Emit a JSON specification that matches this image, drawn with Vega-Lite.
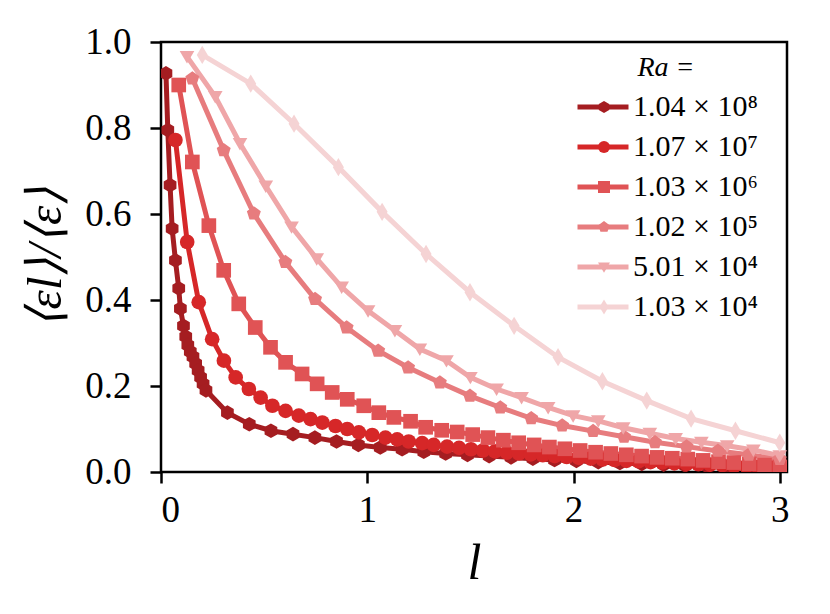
{
  "$schema": "https://vega.github.io/schema/vega-lite/v6.json",
  "width": 626,
  "height": 430,
  "autosize": {"type": "none"},
  "padding": {"left": 161, "top": 42, "right": 43, "bottom": 142},
  "background": "white",
  "config": {
    "font": "Liberation Serif",
    "view": {"stroke": "black", "strokeWidth": 2.5},
    "axis": {
      "domain": false,
      "grid": false,
      "labelFont": "Liberation Serif",
      "labelFontSize": 37,
      "labelColor": "black",
      "tickColor": "black",
      "tickWidth": 2.5,
      "tickSize": 11,
      "titleFont": "Liberation Serif",
      "titleFontWeight": "normal",
      "titleColor": "black"
    },
    "axisX": {"labelPadding": 9},
    "axisY": {"labelPadding": 19}
  },
  "data": {
    "values": [
      {"s": "1.04 × 10⁸", "l": 0.024, "v": 0.927},
      {"s": "1.04 × 10⁸", "l": 0.033, "v": 0.795},
      {"s": "1.04 × 10⁸", "l": 0.044, "v": 0.667},
      {"s": "1.04 × 10⁸", "l": 0.054, "v": 0.566},
      {"s": "1.04 × 10⁸", "l": 0.070, "v": 0.492},
      {"s": "1.04 × 10⁸", "l": 0.086, "v": 0.427},
      {"s": "1.04 × 10⁸", "l": 0.094, "v": 0.380},
      {"s": "1.04 × 10⁸", "l": 0.109, "v": 0.340},
      {"s": "1.04 × 10⁸", "l": 0.120, "v": 0.315},
      {"s": "1.04 × 10⁸", "l": 0.130, "v": 0.295},
      {"s": "1.04 × 10⁸", "l": 0.142, "v": 0.280},
      {"s": "1.04 × 10⁸", "l": 0.155, "v": 0.268},
      {"s": "1.04 × 10⁸", "l": 0.168, "v": 0.252},
      {"s": "1.04 × 10⁸", "l": 0.180, "v": 0.236},
      {"s": "1.04 × 10⁸", "l": 0.192, "v": 0.220},
      {"s": "1.04 × 10⁸", "l": 0.204, "v": 0.205},
      {"s": "1.04 × 10⁸", "l": 0.218, "v": 0.190},
      {"s": "1.04 × 10⁸", "l": 0.322, "v": 0.138},
      {"s": "1.04 × 10⁸", "l": 0.428, "v": 0.111},
      {"s": "1.04 × 10⁸", "l": 0.533, "v": 0.096},
      {"s": "1.04 × 10⁸", "l": 0.640, "v": 0.088},
      {"s": "1.04 × 10⁸", "l": 0.746, "v": 0.080},
      {"s": "1.04 × 10⁸", "l": 0.851, "v": 0.071},
      {"s": "1.04 × 10⁸", "l": 0.957, "v": 0.063},
      {"s": "1.04 × 10⁸", "l": 1.063, "v": 0.057},
      {"s": "1.04 × 10⁸", "l": 1.169, "v": 0.053},
      {"s": "1.04 × 10⁸", "l": 1.274, "v": 0.047},
      {"s": "1.04 × 10⁸", "l": 1.380, "v": 0.043},
      {"s": "1.04 × 10⁸", "l": 1.486, "v": 0.040},
      {"s": "1.04 × 10⁸", "l": 1.591, "v": 0.037},
      {"s": "1.04 × 10⁸", "l": 1.697, "v": 0.034},
      {"s": "1.04 × 10⁸", "l": 1.803, "v": 0.031},
      {"s": "1.04 × 10⁸", "l": 1.908, "v": 0.028},
      {"s": "1.04 × 10⁸", "l": 2.014, "v": 0.026},
      {"s": "1.04 × 10⁸", "l": 2.120, "v": 0.023},
      {"s": "1.04 × 10⁸", "l": 2.225, "v": 0.021},
      {"s": "1.04 × 10⁸", "l": 2.331, "v": 0.019},
      {"s": "1.04 × 10⁸", "l": 2.437, "v": 0.017},
      {"s": "1.04 × 10⁸", "l": 2.542, "v": 0.015},
      {"s": "1.04 × 10⁸", "l": 2.648, "v": 0.013},
      {"s": "1.04 × 10⁸", "l": 2.754, "v": 0.011},
      {"s": "1.04 × 10⁸", "l": 2.860, "v": 0.009},
      {"s": "1.04 × 10⁸", "l": 2.965, "v": 0.007},

      {"s": "1.07 × 10⁷", "l": 0.070, "v": 0.772},
      {"s": "1.07 × 10⁷", "l": 0.127, "v": 0.535},
      {"s": "1.07 × 10⁷", "l": 0.183, "v": 0.395},
      {"s": "1.07 × 10⁷", "l": 0.248, "v": 0.309},
      {"s": "1.07 × 10⁷", "l": 0.305, "v": 0.259},
      {"s": "1.07 × 10⁷", "l": 0.362, "v": 0.220},
      {"s": "1.07 × 10⁷", "l": 0.426, "v": 0.193},
      {"s": "1.07 × 10⁷", "l": 0.483, "v": 0.173},
      {"s": "1.07 × 10⁷", "l": 0.540, "v": 0.154},
      {"s": "1.07 × 10⁷", "l": 0.604, "v": 0.142},
      {"s": "1.07 × 10⁷", "l": 0.668, "v": 0.131},
      {"s": "1.07 × 10⁷", "l": 0.725, "v": 0.123},
      {"s": "1.07 × 10⁷", "l": 0.782, "v": 0.115},
      {"s": "1.07 × 10⁷", "l": 0.846, "v": 0.107},
      {"s": "1.07 × 10⁷", "l": 0.903, "v": 0.100},
      {"s": "1.07 × 10⁷", "l": 0.959, "v": 0.092},
      {"s": "1.07 × 10⁷", "l": 1.024, "v": 0.086},
      {"s": "1.07 × 10⁷", "l": 1.088, "v": 0.080},
      {"s": "1.07 × 10⁷", "l": 1.145, "v": 0.076},
      {"s": "1.07 × 10⁷", "l": 1.201, "v": 0.071},
      {"s": "1.07 × 10⁷", "l": 1.266, "v": 0.067},
      {"s": "1.07 × 10⁷", "l": 1.322, "v": 0.063},
      {"s": "1.07 × 10⁷", "l": 1.387, "v": 0.059},
      {"s": "1.07 × 10⁷", "l": 1.445, "v": 0.056},
      {"s": "1.07 × 10⁷", "l": 1.503, "v": 0.053},
      {"s": "1.07 × 10⁷", "l": 1.561, "v": 0.050},
      {"s": "1.07 × 10⁷", "l": 1.619, "v": 0.048},
      {"s": "1.07 × 10⁷", "l": 1.677, "v": 0.045},
      {"s": "1.07 × 10⁷", "l": 1.735, "v": 0.043},
      {"s": "1.07 × 10⁷", "l": 1.793, "v": 0.041},
      {"s": "1.07 × 10⁷", "l": 1.851, "v": 0.039},
      {"s": "1.07 × 10⁷", "l": 1.909, "v": 0.037},
      {"s": "1.07 × 10⁷", "l": 1.967, "v": 0.035},
      {"s": "1.07 × 10⁷", "l": 2.025, "v": 0.033},
      {"s": "1.07 × 10⁷", "l": 2.083, "v": 0.031},
      {"s": "1.07 × 10⁷", "l": 2.141, "v": 0.029},
      {"s": "1.07 × 10⁷", "l": 2.199, "v": 0.028},
      {"s": "1.07 × 10⁷", "l": 2.257, "v": 0.026},
      {"s": "1.07 × 10⁷", "l": 2.315, "v": 0.025},
      {"s": "1.07 × 10⁷", "l": 2.373, "v": 0.023},
      {"s": "1.07 × 10⁷", "l": 2.431, "v": 0.022},
      {"s": "1.07 × 10⁷", "l": 2.489, "v": 0.020},
      {"s": "1.07 × 10⁷", "l": 2.547, "v": 0.019},
      {"s": "1.07 × 10⁷", "l": 2.605, "v": 0.018},
      {"s": "1.07 × 10⁷", "l": 2.663, "v": 0.017},
      {"s": "1.07 × 10⁷", "l": 2.721, "v": 0.016},
      {"s": "1.07 × 10⁷", "l": 2.779, "v": 0.014},
      {"s": "1.07 × 10⁷", "l": 2.837, "v": 0.013},
      {"s": "1.07 × 10⁷", "l": 2.895, "v": 0.012},
      {"s": "1.07 × 10⁷", "l": 2.953, "v": 0.011},
      {"s": "1.07 × 10⁷", "l": 3.005, "v": 0.010},

      {"s": "1.03 × 10⁶", "l": 0.086, "v": 0.900},
      {"s": "1.03 × 10⁶", "l": 0.152, "v": 0.721},
      {"s": "1.03 × 10⁶", "l": 0.232, "v": 0.573},
      {"s": "1.03 × 10⁶", "l": 0.304, "v": 0.469},
      {"s": "1.03 × 10⁶", "l": 0.377, "v": 0.391},
      {"s": "1.03 × 10⁶", "l": 0.457, "v": 0.336},
      {"s": "1.03 × 10⁶", "l": 0.531, "v": 0.290},
      {"s": "1.03 × 10⁶", "l": 0.604, "v": 0.255},
      {"s": "1.03 × 10⁶", "l": 0.684, "v": 0.228},
      {"s": "1.03 × 10⁶", "l": 0.757, "v": 0.205},
      {"s": "1.03 × 10⁶", "l": 0.830, "v": 0.185},
      {"s": "1.03 × 10⁶", "l": 0.903, "v": 0.169},
      {"s": "1.03 × 10⁶", "l": 0.983, "v": 0.154},
      {"s": "1.03 × 10⁶", "l": 1.056, "v": 0.138},
      {"s": "1.03 × 10⁶", "l": 1.129, "v": 0.127},
      {"s": "1.03 × 10⁶", "l": 1.210, "v": 0.118},
      {"s": "1.03 × 10⁶", "l": 1.283, "v": 0.104},
      {"s": "1.03 × 10⁶", "l": 1.361, "v": 0.097},
      {"s": "1.03 × 10⁶", "l": 1.436, "v": 0.093},
      {"s": "1.03 × 10⁶", "l": 1.511, "v": 0.087},
      {"s": "1.03 × 10⁶", "l": 1.585, "v": 0.080},
      {"s": "1.03 × 10⁶", "l": 1.660, "v": 0.074},
      {"s": "1.03 × 10⁶", "l": 1.734, "v": 0.068},
      {"s": "1.03 × 10⁶", "l": 1.809, "v": 0.063},
      {"s": "1.03 × 10⁶", "l": 1.883, "v": 0.058},
      {"s": "1.03 × 10⁶", "l": 1.958, "v": 0.054},
      {"s": "1.03 × 10⁶", "l": 2.032, "v": 0.050},
      {"s": "1.03 × 10⁶", "l": 2.107, "v": 0.046},
      {"s": "1.03 × 10⁶", "l": 2.181, "v": 0.043},
      {"s": "1.03 × 10⁶", "l": 2.256, "v": 0.040},
      {"s": "1.03 × 10⁶", "l": 2.330, "v": 0.037},
      {"s": "1.03 × 10⁶", "l": 2.405, "v": 0.034},
      {"s": "1.03 × 10⁶", "l": 2.479, "v": 0.032},
      {"s": "1.03 × 10⁶", "l": 2.554, "v": 0.030},
      {"s": "1.03 × 10⁶", "l": 2.628, "v": 0.027},
      {"s": "1.03 × 10⁶", "l": 2.703, "v": 0.024},
      {"s": "1.03 × 10⁶", "l": 2.777, "v": 0.022},
      {"s": "1.03 × 10⁶", "l": 2.852, "v": 0.019},
      {"s": "1.03 × 10⁶", "l": 2.926, "v": 0.016},
      {"s": "1.03 × 10⁶", "l": 3.000, "v": 0.012},

      {"s": "1.02 × 10⁵", "l": 0.152, "v": 0.915},
      {"s": "1.02 × 10⁵", "l": 0.304, "v": 0.748},
      {"s": "1.02 × 10⁵", "l": 0.450, "v": 0.601},
      {"s": "1.02 × 10⁵", "l": 0.603, "v": 0.488},
      {"s": "1.02 × 10⁵", "l": 0.747, "v": 0.402},
      {"s": "1.02 × 10⁵", "l": 0.900, "v": 0.336},
      {"s": "1.02 × 10⁵", "l": 1.053, "v": 0.282},
      {"s": "1.02 × 10⁵", "l": 1.198, "v": 0.243},
      {"s": "1.02 × 10⁵", "l": 1.352, "v": 0.208},
      {"s": "1.02 × 10⁵", "l": 1.498, "v": 0.177},
      {"s": "1.02 × 10⁵", "l": 1.645, "v": 0.150},
      {"s": "1.02 × 10⁵", "l": 1.795, "v": 0.125},
      {"s": "1.02 × 10⁵", "l": 1.945, "v": 0.108},
      {"s": "1.02 × 10⁵", "l": 2.095, "v": 0.095},
      {"s": "1.02 × 10⁵", "l": 2.245, "v": 0.082},
      {"s": "1.02 × 10⁵", "l": 2.395, "v": 0.069},
      {"s": "1.02 × 10⁵", "l": 2.548, "v": 0.059},
      {"s": "1.02 × 10⁵", "l": 2.700, "v": 0.049},
      {"s": "1.02 × 10⁵", "l": 2.850, "v": 0.040},
      {"s": "1.02 × 10⁵", "l": 3.000, "v": 0.030},

      {"s": "5.01 × 10⁴", "l": 0.126, "v": 0.966},
      {"s": "5.01 × 10⁴", "l": 0.263, "v": 0.873},
      {"s": "5.01 × 10⁴", "l": 0.383, "v": 0.764},
      {"s": "5.01 × 10⁴", "l": 0.508, "v": 0.665},
      {"s": "5.01 × 10⁴", "l": 0.633, "v": 0.570},
      {"s": "5.01 × 10⁴", "l": 0.755, "v": 0.496},
      {"s": "5.01 × 10⁴", "l": 0.876, "v": 0.430},
      {"s": "5.01 × 10⁴", "l": 1.004, "v": 0.375},
      {"s": "5.01 × 10⁴", "l": 1.134, "v": 0.329},
      {"s": "5.01 × 10⁴", "l": 1.255, "v": 0.286},
      {"s": "5.01 × 10⁴", "l": 1.384, "v": 0.259},
      {"s": "5.01 × 10⁴", "l": 1.500, "v": 0.220},
      {"s": "5.01 × 10⁴", "l": 1.627, "v": 0.193},
      {"s": "5.01 × 10⁴", "l": 1.748, "v": 0.173},
      {"s": "5.01 × 10⁴", "l": 1.877, "v": 0.150},
      {"s": "5.01 × 10⁴", "l": 1.998, "v": 0.131},
      {"s": "5.01 × 10⁴", "l": 2.120, "v": 0.119},
      {"s": "5.01 × 10⁴", "l": 2.241, "v": 0.103},
      {"s": "5.01 × 10⁴", "l": 2.370, "v": 0.090},
      {"s": "5.01 × 10⁴", "l": 2.495, "v": 0.078},
      {"s": "5.01 × 10⁴", "l": 2.620, "v": 0.069},
      {"s": "5.01 × 10⁴", "l": 2.745, "v": 0.061},
      {"s": "5.01 × 10⁴", "l": 2.872, "v": 0.051},
      {"s": "5.01 × 10⁴", "l": 3.000, "v": 0.038},

      {"s": "1.03 × 10⁴", "l": 0.200, "v": 0.970},
      {"s": "1.03 × 10⁴", "l": 0.435, "v": 0.903},
      {"s": "1.03 × 10⁴", "l": 0.645, "v": 0.810},
      {"s": "1.03 × 10⁴", "l": 0.860, "v": 0.709},
      {"s": "1.03 × 10⁴", "l": 1.072, "v": 0.605},
      {"s": "1.03 × 10⁴", "l": 1.285, "v": 0.507},
      {"s": "1.03 × 10⁴", "l": 1.498, "v": 0.418},
      {"s": "1.03 × 10⁴", "l": 1.712, "v": 0.340},
      {"s": "1.03 × 10⁴", "l": 1.925, "v": 0.267},
      {"s": "1.03 × 10⁴", "l": 2.140, "v": 0.211},
      {"s": "1.03 × 10⁴", "l": 2.355, "v": 0.166},
      {"s": "1.03 × 10⁴", "l": 2.570, "v": 0.124},
      {"s": "1.03 × 10⁴", "l": 2.785, "v": 0.096},
      {"s": "1.03 × 10⁴", "l": 3.000, "v": 0.068}
    ]
  },
  "encoding": {
    "x": {
      "field": "l",
      "type": "quantitative",
      "title": "l",
      "scale": {"domain": [0, 3.035], "nice": false, "zero": false},
      "axis": {
        "values": [0, 1, 2, 3],
        "format": "d",
        "titleFontSize": 50,
        "titleFontStyle": "italic",
        "titlePadding": 10
      }
    },
    "y": {
      "field": "v",
      "type": "quantitative",
      "title": "⟨εl⟩/⟨ε⟩",
      "scale": {"domain": [0, 1], "nice": false},
      "axis": {
        "values": [0, 0.2, 0.4, 0.6, 0.8, 1.0],
        "format": ".1f",
        "titleFontSize": 49,
        "titleFontStyle": "italic",
        "titlePadding": 14
      }
    }
  },
  "layer": [
    {
      "mark": {"type": "line", "strokeWidth": 5, "clip": true},
      "encoding": {
        "color": {
          "field": "s",
          "type": "nominal",
          "scale": {
            "domain": ["1.04 × 10⁸", "1.07 × 10⁷", "1.03 × 10⁶", "1.02 × 10⁵", "5.01 × 10⁴", "1.03 × 10⁴"],
            "range": ["#a51d21", "#d62728", "#e05355", "#e77c7e", "#efa6a8", "#f5d3d4"]
          },
          "legend": {
            "title": "\u2003\u00a0Ra =",
            "orient": "none",
            "legendX": 414,
            "legendY": 12,
            "padding": 0,
            "titleFont": "Liberation Serif",
            "titleFontSize": 28,
            "titleFontStyle": "italic",
            "titleFontWeight": "normal",
            "titleColor": "black",
            "titleAnchor": "middle",
            "titlePadding": 10,
            "labelFont": "Liberation Serif",
            "labelFontSize": 30,
            "labelColor": "black",
            "labelOffset": 2,
            "rowPadding": 10,
            "clipHeight": 30,
            "symbolType": "stroke",
            "symbolSize": 2601,
            "symbolStrokeWidth": 5
          }
        }
      }
    },
    {
      "mark": {"type": "point", "filled": true, "opacity": 1, "strokeWidth": 0, "size": 215, "clip": true},
      "encoding": {
        "fill": {
          "field": "s",
          "type": "nominal",
          "sort": null,
          "scale": {
            "range": ["#a51d21", "#d62728", "#e05355", "#e77c7e", "#efa6a8", "#f5d3d4"]
          },
          "legend": {
            "title": " ",
            "orient": "none",
            "legendX": 428,
            "legendY": 12,
            "padding": 0,
            "titleFont": "Liberation Serif",
            "titleFontSize": 28,
            "titleFontStyle": "italic",
            "titleFontWeight": "normal",
            "titleColor": "transparent",
            "titleAnchor": "middle",
            "titlePadding": 10,
            "labelFont": "Liberation Serif",
            "labelFontSize": 30,
            "labelColor": "transparent",
            "labelExpr": "' '",
            "labelOffset": 2,
            "rowPadding": 10,
            "clipHeight": 30,
            "symbolSize": 144,
            "symbolStrokeWidth": 0,
            "symbolOpacity": 1
          }
        },
        "shape": {
          "field": "s",
          "type": "nominal",
          "sort": null,
          "scale": {
            "range": [
              "M0,-1L0.866,-0.5L0.866,0.5L0,1L-0.866,0.5L-0.866,-0.5Z",
              "circle",
              "square",
              "M0,-1L0.951,-0.309L0.588,0.809L-0.588,0.809L-0.951,-0.309Z",
              "M-1,-0.75L1,-0.75L0,0.95Z",
              "M0,-1.25L0.75,0L0,1.25L-0.75,0Z"
            ]
          }
        }
      }
    }
  ]
}
